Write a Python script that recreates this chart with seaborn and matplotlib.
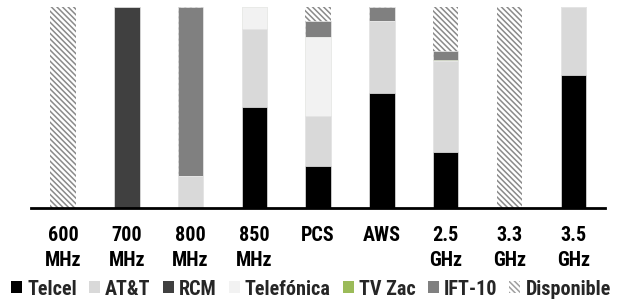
import matplotlib
matplotlib.use("Agg")
import matplotlib.pyplot as plt
import seaborn as sns
import pandas as pd
from matplotlib.patches import Patch

sns.set_theme(style="white")
plt.rcParams['font.family'] = ['Roboto Condensed', 'DejaVu Sans']
plt.rcParams['hatch.linewidth'] = 1.1

categories = ["600\nMHz", "700\nMHz", "800\nMHz", "850\nMHz", "PCS", "AWS", "2.5\nGHz", "3.3\nGHz", "3.5\nGHz"]
telcel     = [0, 0, 0, 50, 21, 57, 28, 0, 66]
att        = [0, 0, 16, 39, 25, 36, 45, 0, 34]
rcm        = [0, 100, 0, 0, 0, 0, 0, 0, 0]
telefonica = [0, 0, 0, 11, 39, 0, 0, 0, 0]
tvzac      = [0, 0, 0, 0, 0, 0, 0.5, 0, 0]
ift10      = [0, 0, 84, 0, 8, 7, 4.5, 0, 0]
disponible = [100, 0, 0, 0, 7, 0, 22, 100, 0]

series = ["Telcel", "AT&T", "RCM", "Telefónica", "TV Zac", "IFT-10", "Disponible"]
values = [telcel, att, rcm, telefonica, tvzac, ift10, disponible]
colors = ["#000000", "#d9d9d9", "#404040", "#f2f2f2", "#9bbb59", "#808080", "#ffffff"]
HATCH = "\\" * 6

df = pd.DataFrame({s: v for s, v in zip(series, values)}, index=categories)
cum = df.cumsum(axis=1)

fig = plt.figure(figsize=(6.22, 3.03), dpi=100)
ax = fig.add_axes([0.05, 0.3135, 0.923, 0.6635])

for i in range(len(series) - 1, -1, -1):
    s = series[i]
    d = pd.DataFrame({"cat": categories, "val": cum[s].values})
    if s == "Disponible":
        sns.barplot(data=d, x="cat", y="val", color=colors[i], width=0.4,
                    saturation=1, ax=ax, edgecolor="#8a8a8a", linewidth=0,
                    hatch=HATCH)
    else:
        sns.barplot(data=d, x="cat", y="val", color=colors[i], width=0.4,
                    saturation=1, ax=ax, edgecolor="#ebebeb", linewidth=0.5)

ax.set_ylim(0, 100)
ax.set_xlim(-0.5, 8.5)
ax.set_xlabel("")
ax.set_ylabel("")
ax.set_yticks([])
for sp in ["top", "left", "right"]:
    ax.spines[sp].set_visible(False)
ax.spines["bottom"].set_color("black")
ax.spines["bottom"].set_linewidth(2)
ax.tick_params(axis="x", length=0, pad=13)
for lab in ax.get_xticklabels():
    lab.set_fontsize(14.5)
    lab.set_fontweight("bold")
    lab.set_color("black")
    lab.set_linespacing(1.4)

handles = []
for s, c in zip(series, colors):
    if s == "Disponible":
        handles.append(Patch(facecolor=c, edgecolor="#a0a0a0", linewidth=0, hatch=HATCH, label=s))
    else:
        handles.append(Patch(facecolor=c, edgecolor="none", label=s))
fig.legend(handles=handles, loc="lower center", ncol=7, bbox_to_anchor=(0.5, -0.045),
           frameon=False, prop={"size": 14.5, "weight": "bold"},
           handlelength=0.55, handleheight=0.55, handletextpad=0.25, columnspacing=0.6)

fig.savefig("out.png", dpi=100)
